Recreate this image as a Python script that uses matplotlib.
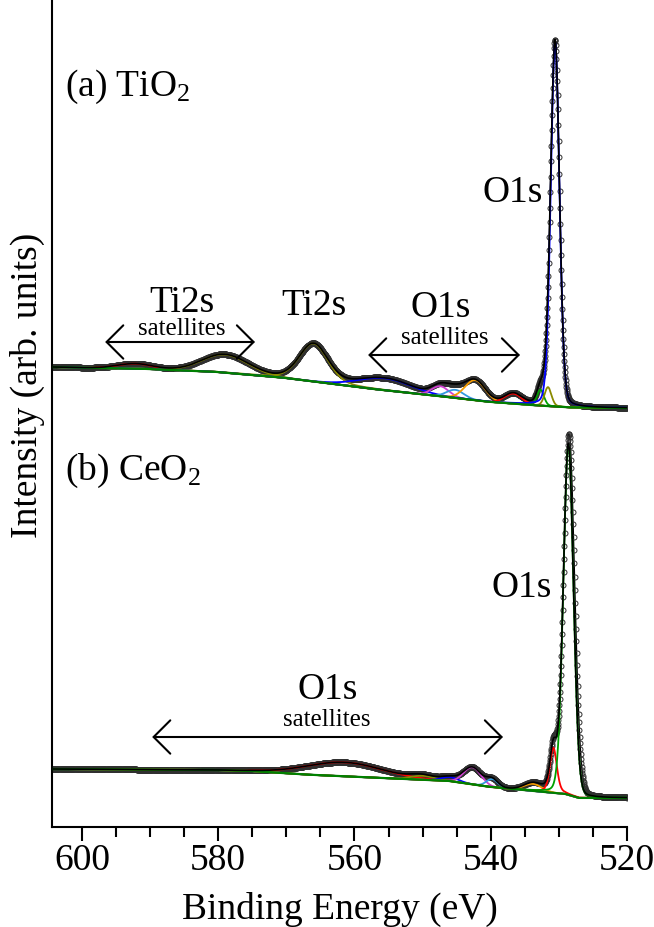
import numpy as np
import matplotlib

matplotlib.use("Agg")
import matplotlib.pyplot as plt

plt.rcParams["font.family"] = ["Liberation Serif", "DejaVu Serif"]
plt.rcParams["mathtext.fontset"] = "custom"
plt.rcParams["mathtext.rm"] = "Liberation Serif"

# binding energy grid of the scan (eV)
energy = np.arange(520.0, 604.45, 0.05)

# --- (a) TiO2: background anchors and fitted components ---
tio2_bg_energy = [520.0, 528.0, 532.0, 540.0, 545.0, 556.0, 570.0, 580.0, 590.0, 604.4]
tio2_bg_level = [419, 419.5, 421, 425, 429, 437, 449, 455, 458, 460]
tio2_center = [592.2, 579.0, 566.0, 555.5, 547.4, 545.2, 542.3, 536.7, 532.7, 531.6, 530.55]
tio2_height = [5, 18, 38, 12, 10, 8, 20, 10, 16, 19, 364]
tio2_fwhm = [6.0, 8.0, 5.0, 9.0, 3.0, 3.0, 3.5, 3.0, 1.2, 1.2, 1.5]
tio2_eta = [0, 0, 0.2, 0, 0, 0, 0, 0, 0.2, 0.2, 0.15]
tio2_color = ["#ff0000", "#8b8b00", "#8b8b00", "#0000ff", "#d040d0", "#3399dd",
              "#f59b00", "#ff0000", "#00a000", "#8b8b00", "#0000ff"]

# --- (b) CeO2 ---
ceo2_bg_energy = [520.0, 527.0, 529.0, 532.0, 540.0, 546.0, 556.0, 566.0, 575.0, 580.0, 604.4]
ceo2_bg_level = [29, 29, 33, 35, 40, 46, 49, 52, 56, 57, 58]
ceo2_center = [561.5, 550.0, 546.0, 542.7, 539.8, 533.8, 530.8, 528.6]
ceo2_height = [14, 4, 4, 17, 8, 7, 45, 350]
ceo2_fwhm = [13.0, 4.0, 3.0, 3.0, 2.0, 3.0, 1.2, 1.75]
ceo2_eta = [0, 0, 0, 0, 0, 0, 0.4, 0.1]
ceo2_color = ["#ff0000", "#8b8b00", "#0000ff", "#d040d0", "#3399dd", "#f59b00",
              "#ff0000", "#00a000"]
# measured main line sits a touch higher/wider than its fit
ceo2_meas_main = [528.5, 360, 1.9, 0.1]


def pvoigt(x, c, h, w, eta):
    t = (x - c) / w
    return h * (eta / (1 + 4 * t ** 2) + (1 - eta) * np.exp(-4 * np.log(2) * t ** 2))


def draw_spectrum(ax, bg_e, bg_l, cen, hgt, fw, eta, col, meas_main=None):
    bg = np.interp(energy, bg_e, bg_l)
    comps = [pvoigt(energy, c, h, w, e) for c, h, w, e in zip(cen, hgt, fw, eta)]
    fit = bg + np.sum(comps, axis=0)
    meas = fit.copy()
    if meas_main is not None:
        meas = fit - comps[-1] + pvoigt(energy, *meas_main)
    ax.plot(energy, meas, color="black", lw=1.0, marker="o", ms=3.6,
            mfc="none", mec="#303030", mew=0.7, zorder=2)
    for comp, c in zip(comps, col):
        ax.plot(energy, bg + comp, color=c, lw=1.3, zorder=3)
    ax.plot(energy, bg, color="#008000", lw=1.6, zorder=3.5)
    ax.plot(energy, fit, color="black", lw=1.2, zorder=4)


fig = plt.figure(figsize=(6.54, 9.27), dpi=100)
ax = fig.add_axes([52 / 654, 100 / 927, 575 / 654, 827 / 927])

draw_spectrum(ax, tio2_bg_energy, tio2_bg_level, tio2_center, tio2_height,
              tio2_fwhm, tio2_eta, tio2_color)
draw_spectrum(ax, ceo2_bg_energy, ceo2_bg_level, ceo2_center, ceo2_height,
              ceo2_fwhm, ceo2_eta, ceo2_color, ceo2_meas_main)

# double arrows marking satellite ranges
arrow = dict(arrowstyle="<->,head_length=0.6,head_width=0.6", lw=1.5,
             color="black", shrinkA=0, shrinkB=0, mutation_scale=20)
for x1, x2, y in [(596.6, 574.6, 485), (558.0, 535.7, 472), (589.7, 538.2, 90)]:
    ax.annotate("", xy=(x1, y), xytext=(x2, y), arrowprops=arrow)

big = 27
small = 18
ax.text(602.5, 731, r"(a) $\mathregular{TiO_2}$", fontsize=big)
ax.text(602.5, 347, r"(b) $\mathregular{CeO_2}$", fontsize=big)
ax.text(585.3, 515, "Ti2s", fontsize=big, ha="center")
ax.text(585.3, 492, "satellites", fontsize=small, ha="center")
ax.text(565.9, 512, "Ti2s", fontsize=big, ha="center")
ax.text(547.4, 510, "O1s", fontsize=big, ha="center")
ax.text(546.8, 483, "satellites", fontsize=small, ha="center")
ax.text(532.3, 625, "O1s", fontsize=big, ha="right")
ax.text(564.0, 128, "O1s", fontsize=big, ha="center")
ax.text(564.0, 101, "satellites", fontsize=small, ha="center")
ax.text(531.0, 230, "O1s", fontsize=big, ha="right")

ax.set_xlim(604.4, 520)
ax.set_ylim(0, 827)
ax.set_xticks(np.arange(600, 519, -20))
ax.set_xticks(np.arange(600, 519, -5), minor=True)
ax.set_yticks([])
ax.tick_params(axis="x", which="major", length=10, width=1.5, labelsize=big, pad=2)
ax.tick_params(axis="x", which="minor", length=7, width=1.5)
for side in ["top", "right"]:
    ax.spines[side].set_visible(False)
for side in ["left", "bottom"]:
    ax.spines[side].set_linewidth(1.5)
ax.set_xlabel("Binding Energy (eV)", fontsize=big, labelpad=10)
ax.set_ylabel("Intensity (arb. units)", fontsize=big)
ax.yaxis.set_label_coords(-0.012, 0.5345)

fig.savefig("out.png", dpi=100)
